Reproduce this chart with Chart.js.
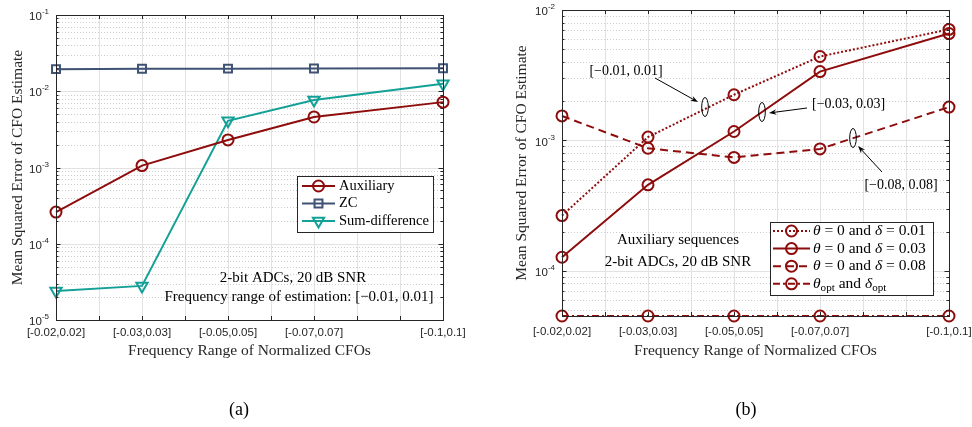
<!DOCTYPE html>
<html lang="en">
<head>
  <meta charset="UTF-8">
  <title>MSE of CFO Estimate vs Frequency Range</title>
  <script src="https://cdn.jsdelivr.net/npm/chart.js"></script>
  <style>
    * { margin: 0; padding: 0; box-sizing: border-box; }
    body { width: 972px; height: 427px; background: #fff; position: relative; overflow: hidden; }
    .panel { position: absolute; top: 0; width: 486px; height: 427px; }
    #panelA { left: 0; }
    #panelB { left: 486px; }
    canvas { display: block; }
    .cap {
      position: absolute; top: 398px; width: 100px; text-align: center;
      font-family: "Liberation Serif", "Times New Roman", serif; font-size: 18px; line-height: 22px; color: #000;
    }
  </style>
</head>
<body>
  <div class="panel" id="panelA"><canvas id="chartA" width="486" height="427"></canvas></div>
  <div class="panel" id="panelB"><canvas id="chartB" width="486" height="427"></canvas></div>
  <div class="cap" style="left:189px">(a)</div>
  <div class="cap" style="left:696px">(b)</div>

  <script>
    // --- data ---
    const rangeLabels = ['[-0.02,0.02]', '[-0.03,0.03]', '[-0.05,0.05]', '[-0.07,0.07]', '[-0.1,0.1]'];
    const rangePos = [1, 2, 3, 4, 5.5];

    // (a) sequence comparison
    const auxiliary = [2.6e-4, 1.06e-3, 2.3e-3, 4.6e-3, 7.2e-3];
    const zc = [1.95e-2, 1.97e-2, 1.98e-2, 1.99e-2, 2.0e-2];
    const sumDiff = [2.4e-5, 2.8e-5, 4.1e-3, 7.7e-3, 1.25e-2];

    // (b) auxiliary sequences with different designs
    const delta001 = [2.65e-4, 1.06e-3, 2.24e-3, 4.4e-3, 7.1e-3];
    const delta003 = [1.27e-4, 4.56e-4, 1.17e-3, 3.37e-3, 6.6e-3];
    const delta008 = [1.54e-3, 8.7e-4, 7.4e-4, 8.6e-4, 1.8e-3];
    const optimal = [4.5e-5, 4.5e-5, 4.5e-5, 4.5e-5, 4.5e-5];

    const SERIF = '"Liberation Serif", "Times New Roman", serif';
    const SANS = '"Liberation Sans", Arial, sans-serif';
    const RED = '#8e0c0c';
    const SLATE = '#3e5273';
    const TEAL = '#13a096';
    const INK = '#262626';

    const CIRCLE = { style: 'circle', r: 5.5 };
    const SQUARE = { style: 'rect', r: 5.6 };
    const TRI_DOWN = { style: 'triangle', r: 6.5, rot: 180 };

    function toPoints(values) {
      return values.map((v, i) => ({ x: rangePos[i], y: v }));
    }

    function lineSet(label, values, color, shape, dash) {
      return {
        label: label,
        data: toPoints(values),
        borderColor: color,
        borderWidth: 2,
        borderDash: dash || [],
        pointStyle: shape.style,
        pointRadius: shape.r,
        pointHoverRadius: shape.r,
        pointRotation: shape.rot || 0,
        pointBorderColor: color,
        pointBackgroundColor: 'rgba(0,0,0,0)',
        pointBorderWidth: 2,
        tension: 0,
        fill: false,
        clip: false
      };
    }

    // draw a run of text pieces: [text, 'i' italic | 's' subscript | '']
    function drawRich(ctx, segs, x, y, size, align) {
      const fontOf = s => (s[1] === 'i' ? 'italic ' : '') + (s[1] === 's' ? size * 0.72 : size) + 'px ' + SERIF;
      let total = 0;
      segs.forEach(s => { ctx.font = fontOf(s); total += ctx.measureText(s[0]).width; });
      let cx = align === 'center' ? x - total / 2 : x;
      ctx.textAlign = 'left';
      ctx.textBaseline = 'middle';
      segs.forEach(s => {
        ctx.font = fontOf(s);
        ctx.fillText(s[0], cx, s[1] === 's' ? y + size * 0.3 : y);
        cx += ctx.measureText(s[0]).width;
      });
    }

    function drawMarker(ctx, ds, x, y) {
      const r = ds.pointRadius;
      ctx.save();
      ctx.setLineDash([]);
      ctx.lineWidth = ds.pointBorderWidth;
      ctx.strokeStyle = ds.pointBorderColor;
      ctx.beginPath();
      if (ds.pointStyle === 'circle') {
        ctx.arc(x, y, r, 0, Math.PI * 2);
      } else if (ds.pointStyle === 'rect') {
        const s = r * Math.SQRT1_2;
        ctx.rect(x - s, y - s, 2 * s, 2 * s);
      } else {
        let a = (ds.pointRotation || 0) * Math.PI / 180;
        for (let k = 0; k < 3; k++) {
          const px = x + Math.sin(a) * r, py = y - Math.cos(a) * r;
          if (k === 0) ctx.moveTo(px, py); else ctx.lineTo(px, py);
          a += 2 * Math.PI / 3;
        }
        ctx.closePath();
      }
      ctx.stroke();
      ctx.restore();
    }

    function drawArrow(ctx, x0, y0, x1, y1) {
      const ang = Math.atan2(y1 - y0, x1 - x0);
      ctx.beginPath();
      ctx.moveTo(x0, y0);
      ctx.lineTo(x1 - Math.cos(ang) * 4, y1 - Math.sin(ang) * 4);
      ctx.stroke();
      ctx.beginPath();
      ctx.moveTo(x1, y1);
      ctx.lineTo(x1 - Math.cos(ang - 0.35) * 8, y1 - Math.sin(ang - 0.35) * 8);
      ctx.lineTo(x1 - Math.cos(ang) * 5, y1 - Math.sin(ang) * 5);
      ctx.lineTo(x1 - Math.cos(ang + 0.35) * 8, y1 - Math.sin(ang + 0.35) * 8);
      ctx.closePath();
      ctx.fill();
    }

    // MATLAB-like axes box, grid, ticks, labels, legend and notes
    function makeFrame(cfg) {
      return {
        id: 'frame',
        beforeDatasetsDraw(chart) {
          const ctx = chart.ctx;
          const { left, right, top, bottom } = chart.chartArea;
          const xs = chart.scales.x, ys = chart.scales.y;
          ctx.save();
          ctx.lineWidth = 1;
          ctx.strokeStyle = '#e2e2e2';
          for (let v = xs.min; v <= xs.max + 1e-9; v += 0.5) {
            const px = Math.round(xs.getPixelForValue(v)) + 0.5;
            ctx.beginPath(); ctx.moveTo(px, top); ctx.lineTo(px, bottom); ctx.stroke();
          }
          const d0 = Math.floor(Math.log10(ys.min)), d1 = Math.ceil(Math.log10(ys.max));
          for (let d = d0; d <= d1; d++) {
            for (let m = 1; m <= 9; m++) {
              const val = m * Math.pow(10, d);
              if (val < ys.min * 1.0001 || val > ys.max * 0.9999) continue;
              const py = Math.round(ys.getPixelForValue(val)) + 0.5;
              ctx.strokeStyle = m === 1 ? '#e2e2e2' : '#cdcdcd';
              ctx.setLineDash(m === 1 ? [] : [1, 2]);
              ctx.beginPath(); ctx.moveTo(left, py); ctx.lineTo(right, py); ctx.stroke();
            }
          }
          ctx.restore();
        },
        afterDatasetsDraw(chart) {
          const ctx = chart.ctx;
          const { left, right, top, bottom } = chart.chartArea;
          const xs = chart.scales.x, ys = chart.scales.y;
          ctx.save();
          ctx.strokeStyle = INK;
          ctx.fillStyle = INK;
          ctx.lineWidth = 1;
          ctx.setLineDash([]);

          // box
          ctx.strokeRect(Math.round(left) + 0.5, Math.round(top) + 0.5, Math.round(right - left), Math.round(bottom - top));

          // x ticks (inward, top and bottom)
          for (let v = xs.min; v <= xs.max + 1e-9; v += 0.5) {
            const px = Math.round(xs.getPixelForValue(v)) + 0.5;
            ctx.beginPath();
            ctx.moveTo(px, bottom); ctx.lineTo(px, bottom - 4);
            ctx.moveTo(px, top); ctx.lineTo(px, top + 4);
            ctx.stroke();
          }
          // y ticks (inward, left and right)
          const d0 = Math.floor(Math.log10(ys.min)), d1 = Math.ceil(Math.log10(ys.max));
          for (let d = d0; d <= d1; d++) {
            for (let m = 1; m <= 9; m++) {
              const val = m * Math.pow(10, d);
              if (val < ys.min * 0.9999 || val > ys.max * 1.0001) continue;
              const py = Math.round(ys.getPixelForValue(val)) + 0.5;
              const len = m === 1 ? 4.5 : 2.5;
              ctx.beginPath();
              ctx.moveTo(left, py); ctx.lineTo(left + len, py);
              ctx.moveTo(right, py); ctx.lineTo(right - len, py);
              ctx.stroke();
            }
          }

          // y tick labels 10^n
          for (let d = Math.ceil(Math.log10(ys.min) - 1e-9); d <= Math.floor(Math.log10(ys.max) + 1e-9); d++) {
            const py = ys.getPixelForValue(Math.pow(10, d));
            ctx.textBaseline = 'middle';
            ctx.textAlign = 'right';
            ctx.font = '8px ' + SANS;
            const sup = String(d);
            const supW = ctx.measureText(sup).width;
            ctx.fillText(sup, left - 7, py - 3);
            ctx.font = '11.5px ' + SANS;
            ctx.fillText('10', left - 7 - supW, py + 2);
          }

          // x tick labels
          ctx.font = '11.5px ' + SANS;
          ctx.textAlign = 'center';
          ctx.textBaseline = 'middle';
          rangePos.forEach((v, i) => {
            ctx.fillText(rangeLabels[i], xs.getPixelForValue(v), cfg.xTickY);
          });

          // axis titles
          ctx.font = '15.5px ' + SERIF;
          ctx.fillText('Frequency Range of Normalized CFOs', (left + right) / 2, cfg.xTitleY);
          ctx.save();
          ctx.translate(cfg.yTitleX, (top + bottom) / 2);
          ctx.rotate(-Math.PI / 2);
          ctx.fillText('Mean Squared Error of CFO Estimate', 0, 0);
          ctx.restore();

          // legend
          const lg = cfg.legend;
          ctx.fillStyle = '#fff';
          ctx.fillRect(lg.x, lg.y, lg.w, lg.h);
          ctx.strokeStyle = INK;
          ctx.strokeRect(lg.x + 0.5, lg.y + 0.5, lg.w, lg.h);
          chart.data.datasets.forEach((ds, i) => {
            const y = lg.firstY + i * lg.rowH;
            ctx.save();
            ctx.strokeStyle = ds.borderColor;
            ctx.lineWidth = ds.borderWidth;
            ctx.setLineDash(ds.borderDash);
            ctx.beginPath(); ctx.moveTo(lg.x0, y); ctx.lineTo(lg.x1, y); ctx.stroke();
            ctx.restore();
            drawMarker(ctx, ds, (lg.x0 + lg.x1) / 2, y);
            ctx.fillStyle = '#000';
            drawRich(ctx, lg.items[i], lg.textX, y, lg.size, 'left');
          });

          // text notes, ellipses, arrows
          ctx.fillStyle = '#000';
          ctx.strokeStyle = '#000';
          ctx.lineWidth = 1;
          (cfg.notes || []).forEach(n => drawRich(ctx, n.segs, n.x, n.y, n.size, n.align));
          (cfg.ellipses || []).forEach(e => {
            ctx.beginPath(); ctx.ellipse(e.x, e.y, e.rx, e.ry, 0, 0, Math.PI * 2); ctx.stroke();
          });
          (cfg.arrows || []).forEach(a => drawArrow(ctx, a.x0, a.y0, a.x1, a.y1));
          ctx.restore();
        }
      };
    }

    function makeChart(id, datasets, yMin, yMax, padding, cfg) {
      return new Chart(document.getElementById(id), {
        type: 'line',
        data: { datasets: datasets },
        options: {
          responsive: false,
          animation: false,
          layout: { padding: padding },
          plugins: { legend: { display: false }, tooltip: { enabled: false } },
          scales: {
            x: { type: 'linear', display: false, min: 1, max: 5.5 },
            y: { type: 'logarithmic', display: false, min: yMin, max: yMax }
          }
        },
        plugins: [makeFrame(cfg)]
      });
    }

    // --- panel (a) ---
    makeChart('chartA', [
      lineSet('Auxiliary', auxiliary, RED, CIRCLE),
      lineSet('ZC', zc, SLATE, SQUARE),
      lineSet('Sum-difference', sumDiff, TEAL, TRI_DOWN)
    ], 1e-5, 1e-1, { left: 56, right: 43, top: 15, bottom: 107 }, {
      xTickY: 333, xTitleY: 351, yTitleX: 18,
      legend: {
        x: 297, y: 176, w: 136, h: 56, firstY: 186, rowH: 17.5,
        x0: 302, x1: 335, textX: 339, size: 14.5,
        items: [[['Auxiliary', '']], [['ZC', '']], [['Sum-difference', '']]]
      },
      notes: [
        { segs: [['2-bit ADCs, 20 dB SNR', '']], x: 293, y: 278, size: 15, align: 'center' },
        { segs: [['Frequency range of estimation: [\u22120.01, 0.01]', '']], x: 299, y: 297, size: 15, align: 'center' }
      ]
    });

    // --- panel (b) ---
    makeChart('chartB', [
      lineSet('theta=0, delta=0.01', delta001, RED, CIRCLE, [2, 2]),
      lineSet('theta=0, delta=0.03', delta003, RED, CIRCLE),
      lineSet('theta=0, delta=0.08', delta008, RED, CIRCLE, [8, 5]),
      lineSet('theta_opt, delta_opt', optimal, RED, CIRCLE, [7, 3, 2, 3])
    ], 4.5e-5, 1e-2, { left: 76, right: 23, top: 10, bottom: 111 }, {
      xTickY: 332, xTitleY: 351, yTitleX: 36,
      legend: {
        x: 284, y: 222, w: 163, h: 73, firstY: 231, rowH: 17.6,
        x0: 287, x1: 324, textX: 327, size: 15.5,
        items: [
          [['\u03b8', 'i'], [' = 0 and ', ''], ['\u03b4', 'i'], [' = 0.01', '']],
          [['\u03b8', 'i'], [' = 0 and ', ''], ['\u03b4', 'i'], [' = 0.03', '']],
          [['\u03b8', 'i'], [' = 0 and ', ''], ['\u03b4', 'i'], [' = 0.08', '']],
          [['\u03b8', 'i'], ['opt', 's'], [' and ', ''], ['\u03b4', 'i'], ['opt', 's']]
        ]
      },
      notes: [
        { segs: [['Auxiliary sequences', '']], x: 192, y: 240, size: 15, align: 'center' },
        { segs: [['2-bit ADCs, 20 dB SNR', '']], x: 192, y: 262, size: 15, align: 'center' },
        { segs: [['[\u22120.01, 0.01]', '']], x: 140, y: 71, size: 14, align: 'center' },
        { segs: [['[\u22120.03, 0.03]', '']], x: 326, y: 104, size: 14, align: 'left' },
        { segs: [['[\u22120.08, 0.08]', '']], x: 415, y: 185, size: 14, align: 'center' }
      ],
      ellipses: [
        { x: 219, y: 107, rx: 3.3, ry: 9.5 },
        { x: 276, y: 112, rx: 3.3, ry: 9.5 },
        { x: 367, y: 138, rx: 3.3, ry: 9.5 }
      ],
      arrows: [
        { x0: 169, y0: 78, x1: 212, y1: 102 },
        { x0: 321, y0: 108, x1: 283, y1: 113 },
        { x0: 396, y0: 172, x1: 372, y1: 146 }
      ]
    });
  </script>
</body>
</html>
